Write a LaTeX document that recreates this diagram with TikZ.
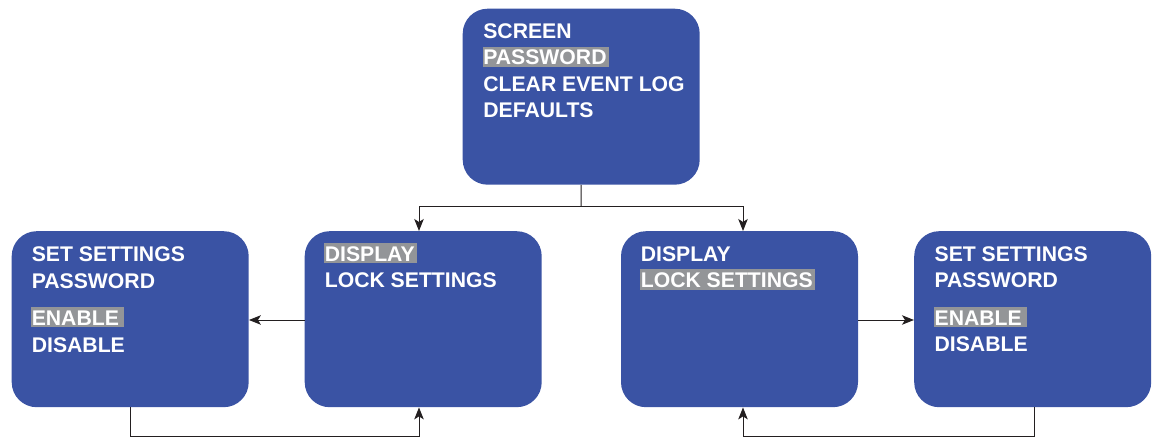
\documentclass[tikz,border=0pt]{standalone}
\usepackage{fontspec}
\setmainfont{Liberation Sans}
\usetikzlibrary{arrows.meta}
\definecolor{boxblue}{HTML}{3A53A4}
\definecolor{hlgray}{HTML}{939598}
\definecolor{linecol}{HTML}{231F20}
\newcommand\hlt[2][2pt]{{\setlength\fboxsep{0pt}\colorbox{hlgray}{\kern0.6pt\rule[-2.2pt]{0pt}{20.6pt}#2\kern#1}}}
\begin{document}
\begin{tikzpicture}[x=1pt,y=-1pt,
  menubox/.style={fill=boxblue,draw=none,rounded corners=25pt,inner sep=0pt,
    minimum width=237pt,minimum height=176pt,anchor=north west},
  menutext/.style={anchor=base west,inner sep=0pt,text=white,
    font=\fontsize{21.2}{26}\selectfont\bfseries},
  arr/.style={draw=linecol,line width=1pt,-{Stealth[length=12pt,width=9.5pt,inset=3pt]}},
  plain/.style={draw=linecol,line width=1pt}]
\useasboundingbox (0,0) rectangle (1159,438);
% boxes
\node[menubox] (top) at (462.5,8.5) {};
\node[menubox] (l1) at (11.5,231) {};
\node[menubox] (l2) at (304.5,231) {};
\node[menubox] (r1) at (620.8,231) {};
\node[menubox] (r2) at (914,231) {};
% top box texts
\node[menutext] (t1) at (482.5,38.6) {\kern0.6pt SCREEN};
\node[menutext] (t2) at (482.5,65) {\hlt{PASSWORD}};
\node[menutext] (t3) at (482.5,91.5) {\kern0.6pt CLEAR EVENT LOG};
\node[menutext] (t4) at (482.5,117.6) {\kern0.6pt DEFAULTS};
% left1
\node[menutext] (a1) at (31,261.7) {\kern0.6pt SET SETTINGS};
\node[menutext] (a2) at (31,288.3) {\kern0.6pt PASSWORD};
\node[menutext] (a3) at (31,325.2) {\hlt[5pt]{ENABLE}};
\node[menutext] (a4) at (31,352.3) {\kern0.6pt DISABLE};
% left2
\node[menutext] (b1) at (324,261.2) {\hlt{DISPLAY}};
\node[menutext] (b2) at (324,287.8) {\kern0.6pt LOCK SETTINGS};
% right1
\node[menutext] (c1) at (640,261.2) {\kern0.6pt DISPLAY};
\node[menutext] (c2) at (640,287.8) {\hlt{LOCK SETTINGS}};
% right2
\node[menutext] (d1) at (933.8,261.2) {\kern0.6pt SET SETTINGS};
\node[menutext] (d2) at (933.8,287.8) {\kern0.6pt PASSWORD};
\node[menutext] (d3) at (933.8,325) {\hlt[5pt]{ENABLE}};
\node[menutext] (d4) at (933.8,351.8) {\kern0.6pt DISABLE};
% helper coordinates
\coordinate (jn) at (581,206.7);
\coordinate (ax1) at (419,0);
\coordinate (ax2) at (743,0);
\coordinate (hy) at (0,320);
\coordinate (bl) at (130,436.8);
\coordinate (br) at (1034,436.8);
% connectors
\draw[plain] (top.south) -- (jn);
\draw[arr] (jn) -| (l2.north -| ax1);
\draw[arr] (jn) -| (r1.north -| ax2);
\draw[arr] (l2.west |- hy) -- (l1.east |- hy);
\draw[arr] (r1.east |- hy) -- (r2.west |- hy);
\draw[arr] (l1.south -| bl) -- (bl) -| (l2.south -| ax1);
\draw[arr] (r2.south -| br) -- (br) -| (r1.south -| ax2);
\end{tikzpicture}
\end{document}
